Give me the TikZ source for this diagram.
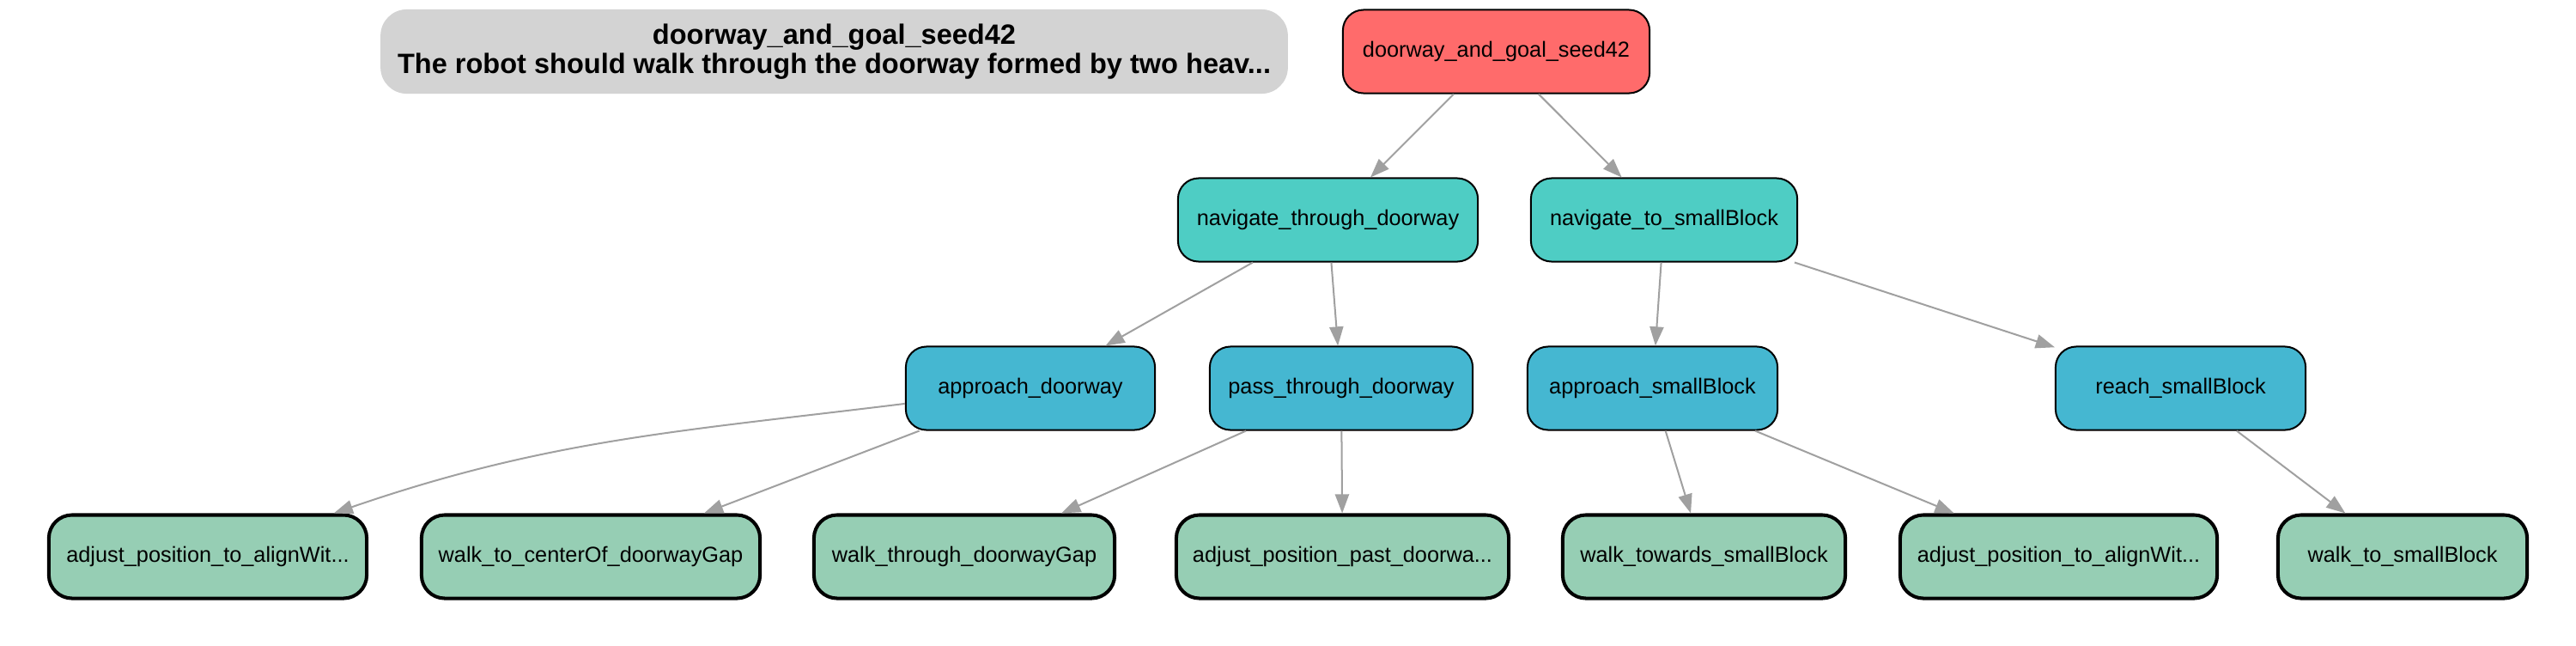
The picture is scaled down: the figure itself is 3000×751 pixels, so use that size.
\documentclass[tikz,border=0pt]{standalone}
\usepackage{fontspec}
\setmainfont{Liberation Sans}
\usetikzlibrary{arrows.meta}
\definecolor{rootc}{HTML}{FF6B6B}
\definecolor{lvlone}{HTML}{4ECDC4}
\definecolor{lvltwo}{HTML}{45B7D1}
\definecolor{leafc}{HTML}{96CEB4}
\definecolor{titlec}{HTML}{D3D3D3}
\definecolor{edgec}{HTML}{A0A0A0}
\begin{document}
\begin{tikzpicture}[x=0.01cm,y=0.01cm,
  base/.style={rectangle, rounded corners=0.24cm, draw=black, line width=0.57pt,
    minimum height=0.97cm, inner sep=0pt, text=black,
    font=\fontsize{7.2}{8.6}\selectfont},
  rootnode/.style={base, fill=rootc},
  onenode/.style={base, fill=lvlone},
  twonode/.style={base, fill=lvltwo},
  leafnode/.style={base, fill=leafc, line width=1.15pt, rounded corners=0.27cm},
  titlenode/.style={rectangle, rounded corners=0.3cm, fill=titlec, draw=titlec,
    line width=0.3pt, minimum height=0.97cm, minimum width=10.55cm, inner sep=0pt,
    align=center, font=\fontsize{9.25}{9.8}\selectfont\bfseries},
  conn/.style={draw=edgec, line width=0.57pt, -{Triangle[length=6.3pt,width=4.6pt]}}
]
\useasboundingbox (0,0) rectangle (3000,-751);

\node[titlenode] (title) at (971.5,-60) {doorway\_and\_goal\_seed42\\The robot should walk through the doorway formed by two heav...};

\node[rootnode, minimum width=3.57cm] (root) at (1742.5,-60) {doorway\_and\_goal\_seed42};

\node[onenode, minimum width=3.49cm] (navd) at (1546.5,-256) {navigate\_through\_doorway};
\node[onenode, minimum width=3.10cm] (navs) at (1938,-256) {navigate\_to\_smallBlock};

\node[twonode, minimum width=2.90cm] (appd) at (1200,-452) {approach\_doorway};
\node[twonode, minimum width=3.06cm] (pass) at (1562,-452) {pass\_through\_doorway};
\node[twonode, minimum width=2.91cm] (apps) at (1924.5,-452) {approach\_smallBlock};
\node[twonode, minimum width=2.91cm] (reach) at (2539.5,-452) {reach\_smallBlock};

\node[leafnode, minimum width=3.70cm] (adja) at (242,-648) {adjust\_position\_to\_alignWit...};
\node[leafnode, minimum width=3.94cm] (walkc) at (688,-648) {walk\_to\_centerOf\_doorwayGap};
\node[leafnode, minimum width=3.50cm] (walkt) at (1123,-648) {walk\_through\_doorwayGap};
\node[leafnode, minimum width=3.87cm] (adjp) at (1563.5,-648) {adjust\_position\_past\_doorwa...};
\node[leafnode, minimum width=3.29cm] (walkw) at (1984.5,-648) {walk\_towards\_smallBlock};
\node[leafnode, minimum width=3.69cm] (adjb) at (2397.5,-648) {adjust\_position\_to\_alignWit...};
\node[leafnode, minimum width=2.90cm] (walks) at (2798,-648) {walk\_to\_smallBlock};

\draw[conn] (root) -- (navd);
\draw[conn] (root) -- (navs);
\draw[conn] (navd) -- (appd);
\draw[conn] (navd) -- (pass);
\draw[conn] (navs) -- (apps);
\draw[conn] (navs) -- (reach);
\draw[conn] (appd) to[out=187,in=19] (adja);
\draw[conn] (appd) -- (walkc);
\draw[conn] (pass) -- (walkt);
\draw[conn] (pass) -- (adjp);
\draw[conn] (apps) -- (walkw);
\draw[conn] (apps) -- (adjb);
\draw[conn] (reach) -- (walks);
\end{tikzpicture}
\end{document}
